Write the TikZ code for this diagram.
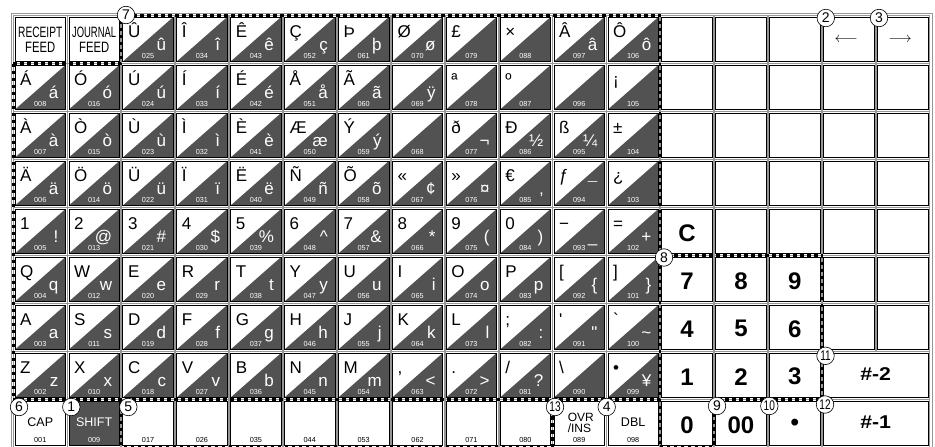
\documentclass[tikz,border=0pt]{standalone}
\usepackage{fontspec}
\setmainfont{Liberation Sans}
\newfontfamily\rawfont{Liberation Sans}[Ligatures=TeXOff]
\usetikzlibrary{calc}

\definecolor{keydark}{RGB}{82,82,82}
\definecolor{rimgray}{RGB}{150,150,150}

% centre of the key in column #1, row #2
\newcommand{\keyat}[2]{%
  \pgfmathsetmacro{\kx}{40.25+(#1-1)*53.9}%
  \pgfmathsetmacro{\ky}{-39.25-(#2-1)*48}%
}
% plain key: [options] column, row, name
\newcommand{\pkey}[4][]{%
  \keyat{#2}{#3}%
  \node[key, #1] (#4) at (\kx,\ky) {};
  \draw[rimline] ($(#4.north west)+(-1.3,1.3)$) rectangle ($(#4.south east)+(1.3,-1.3)$);
}
% two-character key: column, row, upper, lower, code
\newcommand{\dkey}[5]{%
  \pkey{#1}{#2}{k#1-#2}%
  \fill[keydark] (k#1-#2.north east) -- (k#1-#2.south east) -- (k#1-#2.south west) -- cycle;
  \draw[keyline] (k#1-#2.north west) rectangle (k#1-#2.south east);
  \node[upchar] (u#1-#2) at ($(k#1-#2.north west)+(5,-20)$) {#3};
  \node[lowchar] (l#1-#2) at ($(k#1-#2.north east)+(-7,-33)$) {#4};
  \node[code, text=white] (c#1-#2) at ($(k#1-#2.south)+(0,3)$) {#5};
}
% white key with a word and a code: column, row, word, code
\newcommand{\wkey}[4]{%
  \pkey{#1}{#2}{k#1-#2}%
  \node[keytext] (t#1-#2) at ($(k#1-#2.center)+(0,1.5)$) {#3};
  \node[code] (c#1-#2) at ($(k#1-#2.south)+(0,3)$) {#4};
}

\begin{document}
\begin{tikzpicture}[x=1pt, y=1pt,
    key/.style={draw, fill=white, line width=0.8pt, minimum width=50.5pt, minimum height=44.5pt, inner sep=0pt, outer sep=0pt},
    keyline/.style={line width=0.8pt},
    rimline/.style={draw=rimgray, line width=0.5pt},
    upchar/.style={anchor=base west, inner sep=0pt, font=\fontsize{17}{17}\selectfont},
    lowchar/.style={anchor=base east, inner sep=0pt, text=white, font=\fontsize{17}{17}\selectfont},
    code/.style={anchor=base, inner sep=0pt, font=\fontsize{7.3}{7.3}\selectfont},
    keytext/.style={inner sep=0pt, font=\fontsize{12.5}{12.5}\selectfont},
    feedtext/.style={inner sep=0pt, align=center, font=\fontsize{15}{15}\selectfont},
    bignum/.style={inner sep=0pt, font=\fontsize{24}{24}\selectfont\bfseries},
    num/.style={circle, draw, fill=white, line width=0.6pt, inner sep=0pt, minimum size=17.5pt, font=\fontsize{14}{14}\selectfont},
    grp/.style={line width=2.6pt, dash pattern=on 3.5pt off 3.5pt}]
  \useasboundingbox (0,0) rectangle (935,-447);
  \draw[rimline, line width=1pt] (11.5,-13.5) rectangle (932.5,-450);

  % grid corners between the keys
  \foreach \c in {0,...,17} {
    \foreach \r in {0,...,8}
      \coordinate (g\c-\r) at ({13.3+\c*53.9},{-15.5-48*\r});
    \coordinate (g\c-9) at ({13.3+\c*53.9},-446);
  }

  % row 1
  \pkey{1}{1}{k1-1}
  \node[feedtext] (t1-1) at ($(k1-1.center)+(0,-0.5)$) {\scalebox{0.68}[1]{RECEIPT}\\\scalebox{0.75}[1]{FEED}};
  \pkey{2}{1}{k2-1}
  \node[feedtext] (t2-1) at ($(k2-1.center)+(0,-0.5)$) {\scalebox{0.63}[1]{JOURNAL}\\\scalebox{0.75}[1]{FEED}};
  \dkey{3}{1}{Û}{û}{025} \dkey{4}{1}{Î}{î}{034} \dkey{5}{1}{Ê}{ê}{043}
  \dkey{6}{1}{Ç}{ç}{052} \dkey{7}{1}{Þ}{þ}{061} \dkey{8}{1}{Ø}{ø}{070}
  \dkey{9}{1}{£}{}{079} \dkey{10}{1}{×}{}{088} \dkey{11}{1}{Â}{â}{097}
  \dkey{12}{1}{Ô}{ô}{106}
  % row 2
  \dkey{1}{2}{Á}{á}{008} \dkey{2}{2}{Ó}{ó}{016} \dkey{3}{2}{Ú}{ú}{024}
  \dkey{4}{2}{Í}{í}{033} \dkey{5}{2}{É}{é}{042} \dkey{6}{2}{Å}{å}{051}
  \dkey{7}{2}{Ã}{ã}{060} \dkey{8}{2}{}{ÿ}{069} \dkey{9}{2}{ª}{}{078}
  \dkey{10}{2}{º}{}{087} \dkey{11}{2}{}{}{096} \dkey{12}{2}{¡}{}{105}
  % row 3
  \dkey{1}{3}{À}{à}{007} \dkey{2}{3}{Ò}{ò}{015} \dkey{3}{3}{Ù}{ù}{023}
  \dkey{4}{3}{Ì}{ì}{032} \dkey{5}{3}{È}{è}{041} \dkey{6}{3}{Æ}{æ}{050}
  \dkey{7}{3}{Ý}{ý}{059} \dkey{8}{3}{}{}{068} \dkey{9}{3}{ð}{¬}{077}
  \dkey{10}{3}{Đ}{½}{086} \dkey{11}{3}{ß}{¼}{095} \dkey{12}{3}{±}{}{104}
  % row 4
  \dkey{1}{4}{Ä}{ä}{006} \dkey{2}{4}{Ö}{ö}{014} \dkey{3}{4}{Ü}{ü}{022}
  \dkey{4}{4}{Ï}{ï}{031} \dkey{5}{4}{Ë}{ë}{040} \dkey{6}{4}{Ñ}{ñ}{049}
  \dkey{7}{4}{Õ}{õ}{058} \dkey{8}{4}{«}{¢}{067} \dkey{9}{4}{»}{¤}{076}
  \dkey{10}{4}{€}{‚}{085} \dkey{11}{4}{ƒ}{¯}{094} \dkey{12}{4}{¿}{}{103}
  % row 5
  \dkey{1}{5}{1}{!}{005} \dkey{2}{5}{2}{@}{013} \dkey{3}{5}{3}{\#}{021}
  \dkey{4}{5}{4}{\$}{030} \dkey{5}{5}{5}{\%}{039} \dkey{6}{5}{6}{\textasciicircum}{048}
  \dkey{7}{5}{7}{\&}{057} \dkey{8}{5}{8}{*}{066} \dkey{9}{5}{9}{(}{075}
  \dkey{10}{5}{0}{)}{084} \dkey{11}{5}{−}{\_}{093} \dkey{12}{5}{=}{+}{102}
  % row 6
  \dkey{1}{6}{Q}{q}{004} \dkey{2}{6}{W}{w}{012} \dkey{3}{6}{E}{e}{020}
  \dkey{4}{6}{R}{r}{029} \dkey{5}{6}{T}{t}{038} \dkey{6}{6}{Y}{y}{047}
  \dkey{7}{6}{U}{u}{056} \dkey{8}{6}{I}{i}{065} \dkey{9}{6}{O}{o}{074}
  \dkey{10}{6}{P}{p}{083} \dkey{11}{6}{[}{\{}{092} \dkey{12}{6}{]}{\}}{101}
  % row 7
  \dkey{1}{7}{A}{a}{003} \dkey{2}{7}{S}{s}{011} \dkey{3}{7}{D}{d}{019}
  \dkey{4}{7}{F}{f}{028} \dkey{5}{7}{G}{g}{037} \dkey{6}{7}{H}{h}{046}
  \dkey{7}{7}{J}{j}{055} \dkey{8}{7}{K}{k}{064} \dkey{9}{7}{L}{l}{073}
  \dkey{10}{7}{;}{:}{082} \dkey{11}{7}{\rawfont '}{\rawfont "}{091} \dkey{12}{7}{\rawfont `}{\textasciitilde}{100}
  % row 8
  \dkey{1}{8}{Z}{z}{002} \dkey{2}{8}{X}{x}{010} \dkey{3}{8}{C}{c}{018}
  \dkey{4}{8}{V}{v}{027} \dkey{5}{8}{B}{b}{036} \dkey{6}{8}{N}{n}{045}
  \dkey{7}{8}{M}{m}{054} \dkey{8}{8}{,}{<}{063} \dkey{9}{8}{.}{>}{072}
  \dkey{10}{8}{/}{?}{081} \dkey{11}{8}{\textbackslash}{}{090} \dkey{12}{8}{\textbullet}{¥}{099}
  % row 9
  \wkey{1}{9}{CAP}{001}
  \pkey[fill=keydark]{2}{9}{k2-9}
  \node[keytext, text=white] (t2-9) at ($(k2-9.center)+(0,1.5)$) {SHIFT};
  \node[code, text=white] (c2-9) at ($(k2-9.south)+(0,3)$) {009};
  \foreach \c/\n in {3/017,4/026,5/035,6/044,7/053,8/062,9/071,10/080}
    \wkey{\c}{9}{}{\n};
  \wkey{11}{9}{}{089}
  \node[keytext, align=left, font=\fontsize{12}{10.5}\selectfont] (t11-9) at ($(k11-9.center)+(1.5,0.5)$) {OVR\\/INS};
  \wkey{12}{9}{DBL}{098}

  % right block
  \foreach \c in {13,...,17}
    \foreach \r in {1,...,4}
      \pkey{\c}{\r}{k\c-\r};
  \foreach \c/\r in {14/5,15/5,16/5,17/5,16/6,17/6,16/7,17/7}
    \pkey{\c}{\r}{k\c-\r};
  \node[inner sep=0pt, font=\fontsize{15}{15}\selectfont] (a16-1) at ($(k16-1.center)+(-2.5,-0.5)$) {$\longleftarrow$};
  \node[inner sep=0pt, font=\fontsize{15}{15}\selectfont] (a17-1) at ($(k17-1.center)+(-2.5,-0.5)$) {$\longrightarrow$};
  \foreach \c/\r/\t in {13/5/C,13/6/7,14/6/8,15/6/9,13/7/4,14/7/5,15/7/6,13/8/1,14/8/2,15/8/3,13/9/0,14/9/00,15/9/\textbullet} {
    \pkey{\c}{\r}{k\c-\r}
    \node[bignum] (t\c-\r) at ($(k\c-\r.center)+(0,-1.5)$) {\t};
  }
  \pkey[minimum width=104.4pt]{16.5}{8}{kw-8}
  \node[bignum, font=\fontsize{18.5}{18.5}\selectfont\bfseries] (tw-8) at ($(kw-8.center)+(0,1.5)$) {\scalebox{1.15}[1]{\#-2}};
  \pkey[minimum width=104.4pt]{16.5}{9}{kw-9}
  \node[bignum, font=\fontsize{18.5}{18.5}\selectfont\bfseries] (tw-9) at ($(kw-9.center)+(0,1.5)$) {\scalebox{1.15}[1]{\#-1}};

  % dashed groups
  \draw[grp] (g0-1) -- (g2-1) -- (g2-0) -- (g12-0) -- (g12-9);
  \draw[grp] (g0-1) -- (g0-8) -- (g12-8);
  \draw[grp] (g2-8) -- (g2-9) -- (g10-9) -- (g10-8);
  \draw[grp] (g12-5) -- (g15-5) -- (g15-8) -- (g13-8) -- (g13-9) -- (g12-9);

  % numbered marks
  \node[num] (n7) at ($(g2-0)+(4.9,0.5)$) {7};
  \node[num] (n2) at ($(g15-0)+(4,-2.5)$) {2};
  \node[num] (n3) at ($(g16-0)+(3.3,-2.5)$) {3};
  \node[num] (n8) at ($(g12-5)+(3.9,-2)$) {8};
  \node[num] (n11) at ($(g15-7)+(3.7,-4.3)$) {\scalebox{0.72}[1]{11}};
  \node[num] (n6) at ($(g0-8)+(5.7,-7.5)$) {6};
  \node[num] (n1) at ($(g1-8)+(4.1,-7.5)$) {1};
  \node[num] (n5) at ($(g2-8)+(7.2,-7.5)$) {5};
  \node[num] (n13) at ($(g10-8)+(2.7,-7.5)$) {\scalebox{0.72}[1]{13}};
  \node[num] (n4) at ($(g11-8)+(0.5,-7.5)$) {4};
  \node[num] (n9) at ($(g13-8)+(3,-6.5)$) {9};
  \node[num] (n10) at ($(g14-8)+(1.4,-6.5)$) {\scalebox{0.72}[1]{10}};
  \node[num] (n12) at ($(g15-8)+(3.2,-5)$) {\scalebox{0.72}[1]{12}};
\end{tikzpicture}
\end{document}
